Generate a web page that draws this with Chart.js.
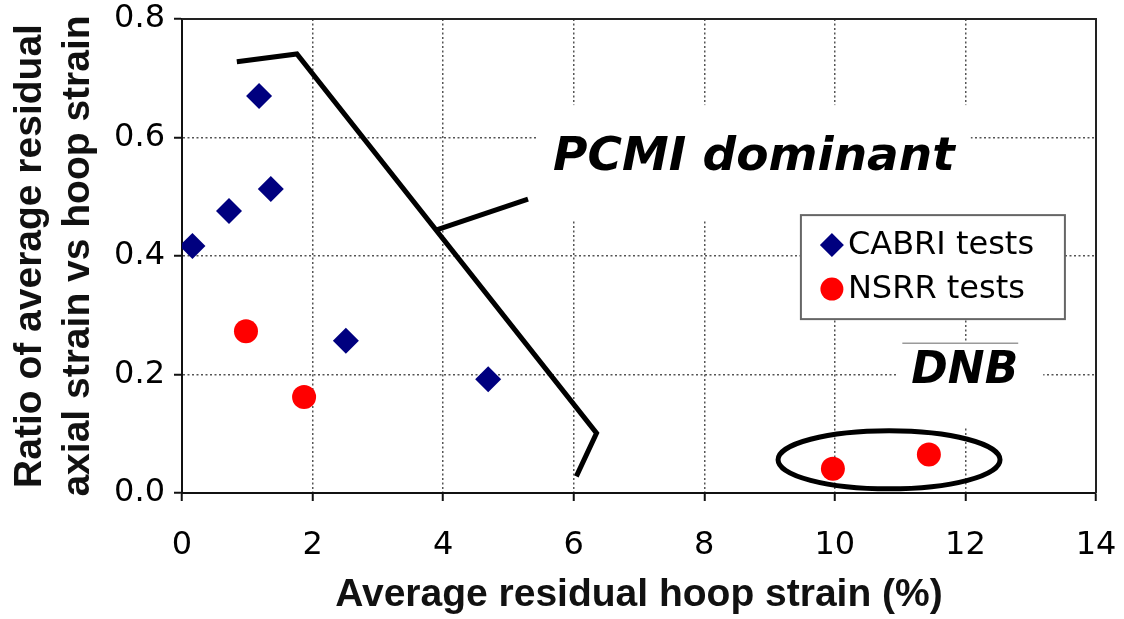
<!DOCTYPE html>
<html><head><meta charset="utf-8">
<script src="https://cdn.jsdelivr.net/npm/chart.js@4.4.1/dist/chart.umd.min.js"></script>
<style>html,body{margin:0;padding:0;background:#fff}#wrap{width:1124px;height:619px}</style>
</head><body><div id="wrap"><canvas id="c" width="1124" height="619"></canvas></div>
<script>
// ---- data ----
const seriesNames = ['CABRI tests', 'NSRR tests'];
const cabriX = [0.16, 0.72, 1.18, 1.36, 2.51, 4.69];
const cabriY = [0.417, 0.476, 0.670, 0.513, 0.257, 0.192];
const nsrrX = [0.98, 1.87, 9.97, 11.44];
const nsrrY = [0.273, 0.162, 0.041, 0.065];
const boundaryX = [0.84, 1.76, 6.35, 6.04];
const boundaryY = [0.728, 0.741, 0.101, 0.028];
const pointerX = [3.90, 5.30];
const pointerY = [0.444, 0.496];
const xTicks = [0, 2, 4, 6, 8, 10, 12, 14];
const yTicks = [0.0, 0.2, 0.4, 0.6, 0.8];
const xTitle = 'Average residual hoop strain (%)';
const yTitle = ['Ratio of average residual', 'axial strain vs hoop strain'];
const pcmiLabel = {text: 'PCMI dominant', x: 8.76, y: 0.545};
const dnbLabel = {text: 'DNB', x: 11.99, y: 0.186};
const dnbEllipse = {cx: 10.83, cy: 0.056, rx: 1.70, ry: 0.049};
const legendAt = {x: 9.48, y: 0.469};

const pts = (xs, ys) => xs.map((x, i) => ({x: x, y: ys[i]}));
const NAVY = '#00007f', RED = '#ff0000';
const TICK_FONT = "'DejaVu Sans'";

const overlay = {
  id: 'overlay',
  beforeDatasetsDraw(chart) {
    const {ctx, chartArea: a, scales: {x, y}} = chart;
    ctx.save();
    // PCMI label with white background
    ctx.font = "italic bold 47px 'DejaVu Sans'";
    let w = ctx.measureText(pcmiLabel.text).width;
    let cx = x.getPixelForValue(pcmiLabel.x), by = y.getPixelForValue(pcmiLabel.y);
    ctx.fillStyle = '#fff';
    ctx.fillRect(cx - w / 2 - 16, by - 65, w + 32, 115);
    // DNB label
    ctx.font = "italic bold 44px 'DejaVu Sans'";
    let w2 = ctx.measureText(dnbLabel.text).width;
    let cx2 = x.getPixelForValue(dnbLabel.x), by2 = y.getPixelForValue(dnbLabel.y);
    ctx.fillRect(cx2 - w2 / 2 - 15, by2 - 40, w2 + 40, 85);
    // ellipse
    const ex = x.getPixelForValue(dnbEllipse.cx), ey = y.getPixelForValue(dnbEllipse.cy);
    const erx = x.getPixelForValue(dnbEllipse.cx + dnbEllipse.rx) - ex;
    const ery = ey - y.getPixelForValue(dnbEllipse.cy + dnbEllipse.ry);
    ctx.beginPath();
    ctx.ellipse(ex, ey, erx, ery, 0, 0, Math.PI * 2);
    ctx.lineWidth = 5; ctx.strokeStyle = '#000'; ctx.stroke();
    // text
    ctx.fillStyle = '#000';
    ctx.textAlign = 'center'; ctx.textBaseline = 'alphabetic';
    ctx.font = "italic bold 47px 'DejaVu Sans'";
    ctx.fillText(pcmiLabel.text, cx, by);
    ctx.font = "italic bold 44px 'DejaVu Sans'";
    ctx.fillText(dnbLabel.text, cx2, by2);
    ctx.beginPath();
    ctx.moveTo(cx2 - w2 / 2 - 9, by2 - 39.5); ctx.lineTo(cx2 + w2 / 2, by2 - 39.5);
    ctx.lineWidth = 1.5; ctx.strokeStyle = '#9a9a9a'; ctx.stroke();
    // legend
    const lx = x.getPixelForValue(legendAt.x), ly = y.getPixelForValue(legendAt.y);
    const lw = 264, lh = 104;
    ctx.fillStyle = '#fff'; ctx.fillRect(lx, ly, lw, lh);
    ctx.lineWidth = 2; ctx.strokeStyle = '#666'; ctx.strokeRect(lx, ly, lw, lh);
    ctx.font = "32px " + TICK_FONT; ctx.textAlign = 'left'; ctx.textBaseline = 'middle';
    const rows = [ly + 30, ly + 74];
    const mx = lx + 31, r = 12;
    ctx.fillStyle = NAVY; ctx.beginPath();
    ctx.moveTo(mx, rows[0] - r); ctx.lineTo(mx + r, rows[0]); ctx.lineTo(mx, rows[0] + r); ctx.lineTo(mx - r, rows[0]); ctx.closePath(); ctx.fill();
    ctx.fillStyle = RED; ctx.beginPath(); ctx.arc(mx, rows[1], 11.5, 0, Math.PI * 2); ctx.fill();
    ctx.fillStyle = '#000';
    ctx.fillText(seriesNames[0], lx + 47, rows[0] + 1);
    ctx.fillText(seriesNames[1], lx + 47, rows[1] + 1);
    // top and right frame
    ctx.beginPath();
    ctx.moveTo(a.left, a.top); ctx.lineTo(a.right, a.top); ctx.lineTo(a.right, a.bottom);
    ctx.lineWidth = 2; ctx.strokeStyle = '#222'; ctx.stroke();
    ctx.restore();
  }
};

new Chart(document.getElementById('c'), {
  type: 'scatter',
  data: {
    datasets: [
      {label: seriesNames[0], data: pts(cabriX, cabriY), pointStyle: 'rectRot', pointRadius: 13, pointHoverRadius: 13,
       backgroundColor: NAVY, borderColor: NAVY, borderWidth: 0},
      {label: seriesNames[1], data: pts(nsrrX, nsrrY), pointStyle: 'circle', pointRadius: 12, pointHoverRadius: 12,
       backgroundColor: RED, borderColor: RED, borderWidth: 0},
      {label: 'boundary', data: pts(boundaryX, boundaryY), showLine: true, pointRadius: 0, borderColor: '#000',
       borderWidth: 5, fill: false, tension: 0, clip: false, borderJoinStyle: 'miter'},
      {label: 'pointer', data: pts(pointerX, pointerY), showLine: true, pointRadius: 0, borderColor: '#000',
       borderWidth: 5, fill: false, tension: 0, clip: false}
    ]
  },
  options: {
    responsive: false,
    animation: false,
    devicePixelRatio: 1,
    layout: {padding: {top: 19, right: 28, left: 0, bottom: 0}},
    plugins: {legend: {display: false}, tooltip: {enabled: false}},
    scales: {
      x: {
        type: 'linear', min: 0, max: 14,
        afterFit(s) { s.height = 126; s.paddingLeft = 0; s.paddingRight = 0; },
        afterBuildTicks(s) { s.ticks = xTicks.map(v => ({value: v})); },
        ticks: {font: {family: TICK_FONT, size: 32}, color: '#000', padding: 25, maxRotation: 0,
                callback: v => String(v)},
        grid: {color: '#555', lineWidth: 1.5, tickColor: '#111', tickWidth: 2, tickLength: 8, tickBorderDash: []},
        border: {display: true, color: '#111', width: 2, dash: [2, 2.5]},
        title: {display: true, text: xTitle, color: '#111',
                font: {family: "'Liberation Sans'", size: 39, weight: 'bold', lineHeight: 1.2},
                padding: {top: 0, bottom: 0}}
      },
      y: {
        type: 'linear', min: 0, max: 0.8,
        afterFit(s) { s.width = 182; s.paddingTop = 0; s.paddingBottom = 0; },
        afterBuildTicks(s) { s.ticks = yTicks.map(v => ({value: v})); },
        ticks: {font: {family: TICK_FONT, size: 32}, color: '#000', padding: 9,
                callback: v => Number(v).toFixed(1)},
        grid: {color: '#555', lineWidth: 1.5, tickColor: '#111', tickWidth: 2, tickLength: 8, tickBorderDash: []},
        border: {display: true, color: '#111', width: 2, dash: [2, 2.5]},
        title: {display: true, text: yTitle, color: '#111',
                font: {family: "'Liberation Sans'", size: 39, weight: 'bold', lineHeight: 1.23},
                padding: {top: 6, bottom: 0}}
      }
    }
  },
  plugins: [overlay]
});
</script>
</body></html>
